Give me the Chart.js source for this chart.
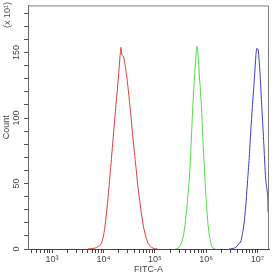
<!DOCTYPE html>
<html>
<head>
<meta charset="utf-8">
<script src="https://cdn.jsdelivr.net/npm/chart.js@4/dist/chart.umd.min.js"></script>
<style>
  html, body { margin: 0; padding: 0; background: #fff; }
  canvas { display: block; }
</style>
</head>
<body>
<canvas id="histo" width="280" height="275"></canvas>
<script>
// FITC-A intensity (x) and count in units of 10^1 (y)
const redX = [5012, 6026, 6918, 7586, 8710, 9772, 10715, 12023, 13490, 15136, 17378, 19498, 21380, 22080, 22909, 24547, 26303, 28184, 30620, 33884, 38019, 42658, 47863, 53703, 60256, 67608, 74131, 83176, 93325, 112202];
const redY = [0, 0.3, 0.7, 1.5, 3, 8, 17, 35, 57, 80, 108, 130, 150, 154, 148, 147, 141, 133, 121, 104, 83, 64, 45, 30, 17, 9, 4.3, 2, 0.5, 0];

const greenX = [251189, 288403, 316228, 346737, 371535, 398107, 436516, 478630, 512861, 549541, 602560, 645654, 668344, 691831, 741310, 812831, 870964, 933254, 1000000, 1071519, 1135011, 1202264, 1258925, 1348963, 1513561];
const greenY = [0, 0.7, 3, 7, 13, 22, 38, 58, 82, 108, 135, 151, 155, 150, 132, 108, 82, 58, 38, 22, 13, 7, 3, 0.7, 0];

const blueX = [2818383, 3548134, 3981072, 4365158, 4677351, 5128614, 5495409, 5888437, 6309573, 6918310, 7413102, 7943282, 8709636, 9332543, 9660509, 10000000, 10351422, 10715193, 11220185, 12022644, 13182567, 14454398, 15135612, 15848932, 16218101, 16405898, 16595869];
const blueY = [0, 0.7, 2, 4.3, 5, 12, 20, 32, 48, 70, 90, 108, 130, 148, 153, 153, 152, 145, 134, 112, 83, 53, 47, 40, 28, 38, 30];

const decadeValues = [1e3, 1e4, 1e5, 1e6, 1e7];
const decadeLabels = ['10³', '10⁴', '10⁵', '10⁶', '10⁷'];
const yLabelValues = [0, 50, 100, 150];

const xMin = 340;
const xMax = 16777215;
const yMax = 186;

function toPoints(xs, ys) {
    return xs.map((x, i) => ({ x: x, y: ys[i] }));
}

// minor log ticks 2..9 in each decade
const xTickValues = [];
for (let p = 2; p <= 7; p++) {
    for (let m = 1; m <= 9; m++) {
        const v = m * Math.pow(10, p);
        if (v >= xMin && v <= xMax) xTickValues.push(v);
    }
}

const fontFamily = '"Liberation Sans", Arial, sans-serif';

const framePlugin = {
    id: 'frame',
    afterDraw(chart) {
        const ctx = chart.ctx;
        const a = chart.chartArea;
        ctx.save();
        ctx.strokeStyle = '#808080';
        ctx.lineWidth = 1;
        ctx.beginPath();
        ctx.moveTo(a.left, a.top + 0.5);
        ctx.lineTo(a.right - 0.5, a.top + 0.5);
        ctx.lineTo(a.right - 0.5, a.bottom);
        ctx.stroke();
        // multiplier note above the Count label
        ctx.fillStyle = '#555';
        ctx.font = '9px ' + fontFamily;
        ctx.translate(8, 2);
        ctx.rotate(-Math.PI / 2);
        ctx.textAlign = 'right';
        ctx.textBaseline = 'middle';
        ctx.fillText('(x 10¹)', 0, 0);
        ctx.restore();
    }
};

const config = {
    type: 'line',
    data: {
        datasets: [
            { data: toPoints(redX, redY), borderColor: 'rgb(220, 60, 60)' },
            { data: toPoints(greenX, greenY), borderColor: 'rgb(80, 220, 70)' },
            { data: toPoints(blueX, blueY), borderColor: 'rgb(60, 60, 200)' }
        ]
    },
    options: {
        responsive: false,
        animation: false,
        devicePixelRatio: 1,
        layout: { padding: { top: 5, right: 11, left: 0, bottom: 0 } },
        elements: {
            line: { borderWidth: 1, tension: 0.25, fill: false },
            point: { radius: 0 }
        },
        plugins: {
            legend: { display: false },
            tooltip: { enabled: false }
        },
        scales: {
            x: {
                type: 'logarithmic',
                min: xMin,
                max: xMax,
                afterBuildTicks: (scale) => {
                    scale.ticks = xTickValues.map(v => ({ value: v, major: decadeValues.includes(v) }));
                },
                afterFit: (scale) => { scale.height = 26; },
                grid: { drawOnChartArea: false, tickLength: 4, tickColor: '#444' },
                border: { color: '#444', width: 1 },
                ticks: {
                    autoSkip: false,
                    maxRotation: 0,
                    padding: 1,
                    color: '#444',
                    font: { family: fontFamily, size: 9 },
                    callback: (v) => {
                        const i = decadeValues.indexOf(v);
                        return i >= 0 ? decadeLabels[i] : '';
                    }
                },
                title: {
                    display: true,
                    text: 'FITC-A',
                    color: '#444',
                    padding: 0,
                    font: { family: fontFamily, size: 9 }
                }
            },
            y: {
                min: 0,
                max: yMax,
                afterFit: (scale) => { scale.width = 28; },
                grid: { drawOnChartArea: false, tickLength: 4, tickColor: '#555' },
                border: { color: '#666', width: 1 },
                ticks: {
                    stepSize: 10,
                    autoSkip: false,
                    includeBounds: false,
                    minRotation: 90,
                    maxRotation: 90,
                    crossAlign: 'center',
                    padding: 0,
                    color: '#444',
                    font: { family: fontFamily, size: 9 },
                    callback: (v) => yLabelValues.includes(v) ? String(v) : ''
                },
                title: {
                    display: true,
                    text: 'Count',
                    color: '#444',
                    padding: { top: 1, bottom: 0 },
                    font: { family: fontFamily, size: 9 }
                }
            }
        }
    },
    plugins: [framePlugin]
};

const histoCanvas = document.getElementById('histo');
const histoChart = new Chart(histoCanvas, config);
</script>
</body>
</html>
